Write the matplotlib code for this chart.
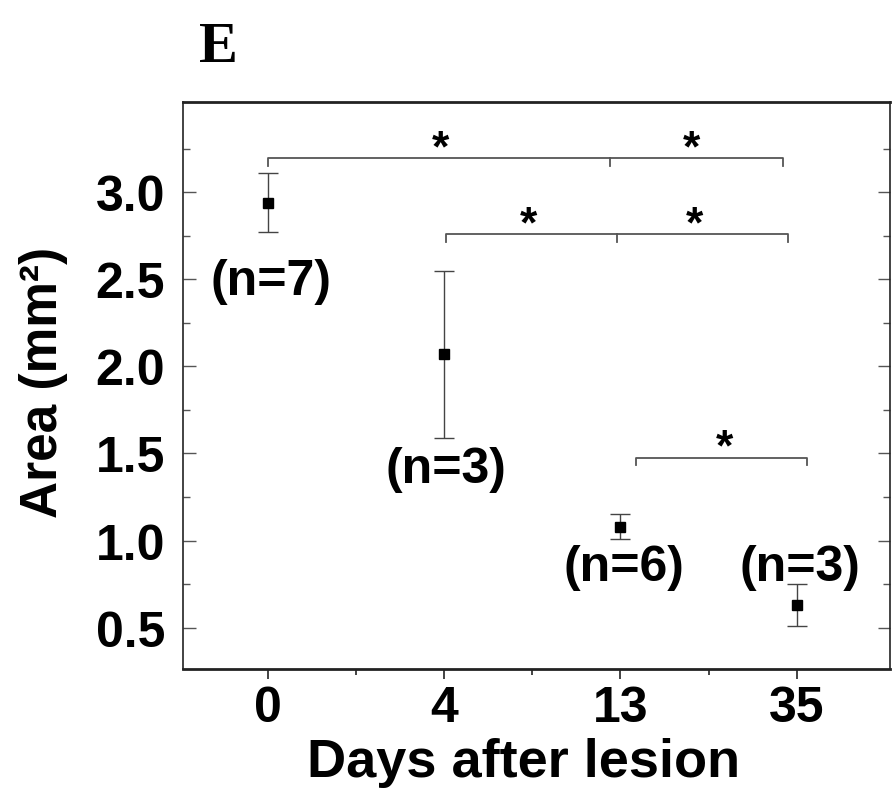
import numpy as np
import matplotlib
matplotlib.use("Agg")
import matplotlib.pyplot as plt
from matplotlib.ticker import FixedLocator

# data
days = ["0", "4", "13", "35"]
area_mean = [2.94, 2.07, 1.08, 0.63]
area_err = [0.17, 0.48, 0.07, 0.12]
n_labels = ["(n=7)", "(n=3)", "(n=6)", "(n=3)"]

# where each n label sits (x index, y value)
n_pos = [(0.02, 2.49), (1.01, 1.41), (2.02, 0.85), (3.02, 0.85)]

# significance brackets: x left, x middle (or None), x right, height, star x's
brackets = [
    (0.00, 1.94, 2.92, 3.195, [0.98, 2.40]),
    (1.01, 1.98, 2.95, 2.760, [1.48, 2.42]),
    (2.09, None, 3.06, 1.477, [2.59]),
]

plt.rcParams.update({
    "font.family": ["Liberation Sans", "DejaVu Sans"],
    "font.weight": "bold",
})

fig = plt.figure(figsize=(8.93, 8.03), dpi=100)
ax = fig.add_axes([0.205, 0.166, 0.792, 0.706])

x = np.arange(len(days))
ax.errorbar(x, area_mean, yerr=area_err, fmt="s", color="black", ms=7,
            ecolor="#444444", elinewidth=1.0, capsize=7, capthick=1.0, zorder=3)

for lab, (lx, ly) in zip(n_labels, n_pos):
    ax.text(lx, ly, lab, ha="center", va="center", fontsize=36, fontweight="bold")

drop = 0.045
for x0, xm, x1, yb, stars in brackets:
    ax.plot([x0, x0, x1, x1], [yb - drop, yb, yb, yb - drop], color="#555555", lw=1.3)
    if xm is not None:
        ax.plot([xm, xm], [yb, yb - drop], color="#555555", lw=1.3)
    for sx in stars:
        ax.annotate("*", (sx, yb), xytext=(0, -1.5), textcoords="offset points",
                    ha="center", va="baseline", fontsize=32, fontweight="bold")

ax.set_xlim(-0.48, 3.53)
ax.set_ylim(0.264, 3.52)
ax.set_xticks(x, days)
ax.xaxis.set_minor_locator(FixedLocator([0.5, 1.5, 2.5]))
ax.set_yticks([0.5, 1.0, 1.5, 2.0, 2.5, 3.0])
ax.yaxis.set_minor_locator(FixedLocator(np.arange(0.75, 3.3, 0.5)))

ax.tick_params(axis="x", which="both", direction="out", top=False,
               labelsize=36, pad=5, width=1.2, color="#222222")
ax.tick_params(axis="x", which="major", length=7)
ax.tick_params(axis="x", which="minor", length=4)
ax.tick_params(axis="y", which="both", direction="in", right=True,
               labelsize=36, pad=13, width=1.0, color="#555555")
ax.tick_params(axis="y", which="major", length=9)
ax.tick_params(axis="y", which="minor", length=5)

for side, sp in ax.spines.items():
    sp.set_color("#222222")
    sp.set_linewidth(2.0 if side in ("top", "bottom") else 1.2)

ax.set_xlabel("Days after lesion", fontsize=39, fontweight="bold", va="baseline")
ax.xaxis.set_label_coords(0.481, -0.189)
ax.set_ylabel("Area (mm²)", fontsize=37, fontweight="bold", va="baseline")
ax.yaxis.set_label_coords(-0.178, 0.506)

fig.text(218 / 893, 1 - 62 / 803, "E", ha="center", va="baseline",
         fontsize=42, fontweight="bold", family=["Liberation Serif", "DejaVu Serif"])

fig.savefig("out.png", dpi=100)
